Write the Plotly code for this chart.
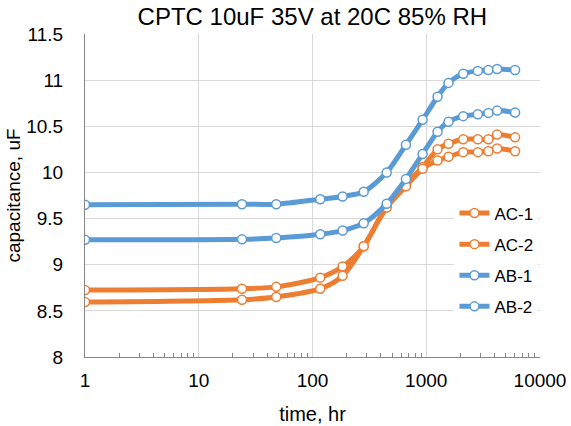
import plotly.graph_objects as go

time_hr = [1, 24, 48, 117, 184, 282, 449, 663, 929, 1257, 1570, 2113, 2840, 3520, 4200, 6040]
ac1 = [8.725, 8.74, 8.76, 8.86, 8.98, 9.20, 9.64, 9.87, 10.06, 10.25, 10.31, 10.36, 10.36, 10.36, 10.41, 10.38]
ac2 = [8.595, 8.62, 8.65, 8.74, 8.88, 9.20, 9.62, 9.85, 10.04, 10.13, 10.17, 10.22, 10.22, 10.23, 10.26, 10.23]
ab1 = [9.65, 9.655, 9.656, 9.71, 9.74, 9.79, 10.00, 10.30, 10.57, 10.82, 10.97, 11.07, 11.10, 11.11, 11.12, 11.11]
ab2 = [9.27, 9.275, 9.29, 9.33, 9.37, 9.45, 9.66, 9.93, 10.20, 10.44, 10.55, 10.61, 10.63, 10.645, 10.67, 10.65]

x_ticks = [1, 10, 100, 1000, 10000]
x_tick_text = ["1", "10", "100", "1000", "10000"]
x_minor = [m * d for d in (1, 10, 100, 1000) for m in range(2, 10)]

series = [("AC-1", ac1, "#ED7D31"), ("AC-2", ac2, "#ED7D31"),
          ("AB-1", ab1, "#5B9BD5"), ("AB-2", ab2, "#5B9BD5")]

FONT = "Liberation Sans, Arial, sans-serif"
fig = go.Figure()
for name, ys, col in series:
    fig.add_trace(go.Scatter(
        x=time_hr, y=ys, name=name, mode="lines+markers",
        line=dict(color=col, width=5, shape="spline", smoothing=0.8),
        marker=dict(size=9, color="white", line=dict(color=col, width=1.5)),
        legendgroup=name,
    ))

fig.update_layout(
    width=571, height=426,
    margin=dict(l=85, r=31, t=34, b=69),
    paper_bgcolor="white", plot_bgcolor="white",
    font=dict(family=FONT, color="#000000", size=19),
    title=dict(text="CPTC 10uF 35V at 20C 85% RH", x=0.547, xanchor="center",
               y=0.962, yanchor="middle", font=dict(size=24, color="#000000")),
    showlegend=True,
    legend=dict(x=0.812, y=0.50, xanchor="left", yanchor="top",
                bgcolor="white", font=dict(size=17, color="#000000"),
                traceorder="grouped", tracegroupgap=6,
                itemwidth=30, borderwidth=0),
)
fig.update_xaxes(
    type="log", range=[0, 4], automargin=False,
    tickvals=x_ticks, ticktext=x_tick_text,
    showgrid=True, gridcolor="#d9d9d9", gridwidth=1,
    showline=True, linecolor="#868686", linewidth=1,
    ticks="", tickfont=dict(size=19, color="#000000"), ticklabelstandoff=6,
    minor=dict(tickvals=x_minor, ticks="inside", ticklen=4, tickcolor="#868686", showgrid=False),
    title=dict(text="time, hr", font=dict(size=20, color="#000000"), standoff=17),
    zeroline=False,
)
fig.update_yaxes(
    range=[8, 11.5], dtick=0.5, tick0=8, automargin=False,
    showgrid=True, gridcolor="#d9d9d9", gridwidth=1,
    showline=True, linecolor="#868686", linewidth=1,
    ticks="", tickfont=dict(size=19, color="#000000"), ticklabelstandoff=17,
    title=dict(text="capacitance, uF", font=dict(size=19, color="#000000"), standoff=0),
    zeroline=False,
)

fig.write_html("out.html")
